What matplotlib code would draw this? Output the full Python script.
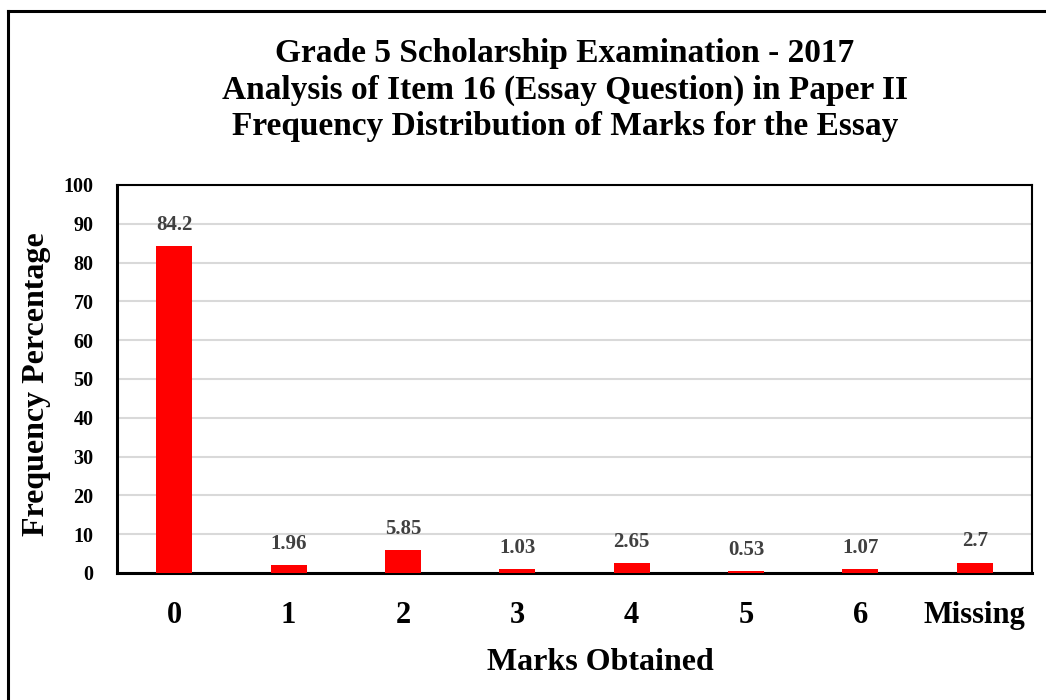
import numpy as np
import matplotlib
matplotlib.use("Agg")
import matplotlib.pyplot as plt
from matplotlib.lines import Line2D

# marks categories and percentage of candidates
categories = ["0", "1", "2", "3", "4", "5", "6", "Missing"]
percentages = [84.2, 1.96, 5.85, 1.03, 2.65, 0.53, 1.07, 2.7]
y_ticks = [0, 10, 20, 30, 40, 50, 60, 70, 80, 90, 100]

plt.rcParams["font.family"] = ["Liberation Serif", "DejaVu Serif"]
plt.rcParams["font.weight"] = "bold"

fig = plt.figure(figsize=(10.46, 7), dpi=100)
ax = fig.add_axes([117 / 1046, 127 / 700, 915 / 1046, 388 / 700])

x = np.arange(len(categories))
ax.bar(x, percentages, width=0.315, color="#ff0000", zorder=3)

for xi, v in zip(x, percentages):
    ax.annotate(f"{v:g}", (xi, v), xytext=(0, 8), textcoords="offset points",
                ha="center", va="bottom", fontsize=15, fontweight="bold",
                color="#404040")

ax.set_xlim(-0.5, len(categories) - 0.5)
ax.set_ylim(0, 100)
ax.set_yticks(y_ticks)
ax.set_yticklabels([str(t) for t in y_ticks], fontsize=14.5, fontweight="bold")
ax.set_xticks(x)
ax.set_xticklabels(categories, fontsize=22, fontweight="bold")
ax.tick_params(axis="both", length=0)
ax.tick_params(axis="x", pad=20)
ax.tick_params(axis="y", pad=17)

ax.yaxis.grid(True, color="#d9d9d9", linewidth=1.5, zorder=0)
ax.set_axisbelow(True)
for side in ["top", "right"]:
    ax.spines[side].set_linewidth(1.5)
for side in ["left", "bottom"]:
    ax.spines[side].set_linewidth(2.2)
for sp in ax.spines.values():
    sp.set_color("black")

ax.set_ylabel("Frequency Percentage", fontsize=23, fontweight="bold")
ax.yaxis.set_label_coords((37 - 117) / 915, (573 - 384) / 388)
ax.set_xlabel("Marks Obtained", fontsize=23, fontweight="bold")
ax.xaxis.set_label_coords((600 - 117) / 915, (573 - 663) / 388)
ax.xaxis.label.set_va("center")
ax.yaxis.label.set_va("center")

fig.text(565 / 1046, 1 - 90 / 700,
         "Grade 5 Scholarship Examination - 2017\n"
         "Analysis of Item 16 (Essay Question) in Paper II\n"
         "Frequency Distribution of Marks for the Essay",
         ha="center", va="center", fontsize=24, fontweight="bold",
         linespacing=1.22)

# outer frame (open at right and bottom)
fig.add_artist(Line2D([7.5 / 1046, 7.5 / 1046], [0, 1 - 10.5 / 700],
                      transform=fig.transFigure, color="black", linewidth=2.2))
fig.add_artist(Line2D([7.5 / 1046, 1], [1 - 10.5 / 700, 1 - 10.5 / 700],
                      transform=fig.transFigure, color="black", linewidth=2.2))

fig.savefig("out.png", dpi=100)
